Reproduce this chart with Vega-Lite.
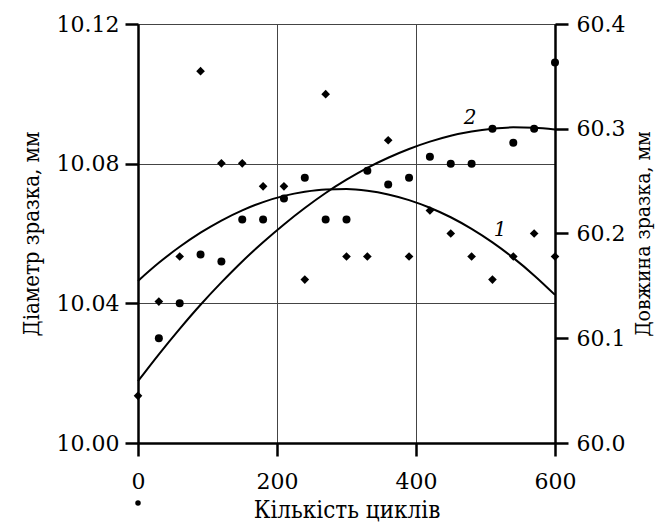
{
  "$schema": "https://vega.github.io/schema/vega-lite/v6.json",
  "autosize": "none",
  "width": 417,
  "height": 419,
  "padding": {"left": 138, "top": 24, "right": 104, "bottom": 82},
  "background": "white",
  "config": {
    "font": "DejaVu Serif",
    "view": {"stroke": "#555", "strokeWidth": 1},
    "axis": {
      "labelFont": "DejaVu Serif",
      "titleFont": "DejaVu Serif Condensed, DejaVu Serif",
      "labelFontSize": 22,
      "titleFontSize": 21,
      "titleFontWeight": "normal",
      "labelColor": "black",
      "titleColor": "black",
      "labelFlush": false,
      "domainColor": "black",
      "domainWidth": 2.5,
      "tickColor": "black",
      "tickWidth": 2.5,
      "tickSize": 13,
      "gridColor": "#444",
      "gridWidth": 1,
      "gridOpacity": 1
    }
  },
  "datasets": {
    "diam": [
      {"n": 30, "d": 10.030}, {"n": 60, "d": 10.040}, {"n": 90, "d": 10.054},
      {"n": 120, "d": 10.052}, {"n": 150, "d": 10.064}, {"n": 180, "d": 10.064},
      {"n": 210, "d": 10.070}, {"n": 240, "d": 10.076}, {"n": 270, "d": 10.064},
      {"n": 300, "d": 10.064}, {"n": 330, "d": 10.078}, {"n": 360, "d": 10.074},
      {"n": 390, "d": 10.076}, {"n": 420, "d": 10.082}, {"n": 450, "d": 10.080},
      {"n": 480, "d": 10.080}, {"n": 510, "d": 10.090}, {"n": 540, "d": 10.086},
      {"n": 570, "d": 10.090}, {"n": 600, "d": 10.109}
    ],
    "len": [
      {"n": 0, "l": 60.045}, {"n": 30, "l": 60.135}, {"n": 60, "l": 60.178},
      {"n": 90, "l": 60.355}, {"n": 120, "l": 60.267}, {"n": 150, "l": 60.267},
      {"n": 180, "l": 60.245}, {"n": 210, "l": 60.245}, {"n": 240, "l": 60.156},
      {"n": 270, "l": 60.333}, {"n": 300, "l": 60.178}, {"n": 330, "l": 60.178},
      {"n": 360, "l": 60.289}, {"n": 390, "l": 60.178}, {"n": 420, "l": 60.222},
      {"n": 450, "l": 60.200}, {"n": 480, "l": 60.178}, {"n": 510, "l": 60.156},
      {"n": 540, "l": 60.178}, {"n": 570, "l": 60.200}, {"n": 600, "l": 60.178}
    ],
    "fit": [
      {"n": 0, "c1": 60.1547, "c2": 10.0177}, {"n": 30, "c1": 60.1720, "c2": 10.0254},
      {"n": 60, "c1": 60.1873, "c2": 10.0327}, {"n": 90, "c1": 60.2008, "c2": 10.0396},
      {"n": 120, "c1": 60.2124, "c2": 10.0460}, {"n": 150, "c1": 60.2221, "c2": 10.0520},
      {"n": 180, "c1": 60.2300, "c2": 10.0575}, {"n": 210, "c1": 60.2359, "c2": 10.0626},
      {"n": 240, "c1": 60.2399, "c2": 10.0673}, {"n": 270, "c1": 60.2421, "c2": 10.0716},
      {"n": 300, "c1": 60.2424, "c2": 10.0754}, {"n": 330, "c1": 60.2408, "c2": 10.0788},
      {"n": 360, "c1": 60.2373, "c2": 10.0817}, {"n": 390, "c1": 60.2319, "c2": 10.0842},
      {"n": 420, "c1": 60.2246, "c2": 10.0863}, {"n": 450, "c1": 60.2155, "c2": 10.0880},
      {"n": 480, "c1": 60.2044, "c2": 10.0892}, {"n": 510, "c1": 60.1915, "c2": 10.0900},
      {"n": 540, "c1": 60.1767, "c2": 10.0904}, {"n": 570, "c1": 60.1600, "c2": 10.0903},
      {"n": 600, "c1": 60.1414, "c2": 10.0898}
    ],
    "lab2": [{"n": 478, "d": 10.093, "t": "2"}],
    "lab1": [{"n": 521, "l": 60.203, "t": "1"}],
    "dot": [{"n": 0, "d": 10.0}]
  },
  "layer": [
    {
      "layer": [
        {
          "data": {"name": "fit"},
          "mark": {"type": "line", "color": "black", "strokeWidth": 2, "interpolate": "monotone"},
          "encoding": {
            "x": {"field": "n", "type": "quantitative", "scale": {"domain": [0, 600], "nice": false},
              "axis": {"values": [0, 200, 400, 600], "grid": true, "title": "Кількість циклів", "titleFontSize": 24, "labelPadding": 15, "titlePadding": 6}},
            "y": {"field": "c2", "type": "quantitative", "scale": {"domain": [10.0, 10.12], "nice": false, "zero": false},
              "axis": {"orient": "left", "values": [10.0, 10.04, 10.08, 10.12], "format": ".2f", "grid": true, "title": "Діаметр зразка, мм", "titleFontSize": 22, "labelPadding": 6, "titlePadding": 13}}
          }
        },
        {
          "data": {"name": "diam"},
          "mark": {"type": "point", "shape": "circle", "filled": true, "color": "black", "opacity": 1, "size": 64},
          "encoding": {
            "x": {"field": "n", "type": "quantitative"},
            "y": {"field": "d", "type": "quantitative"}
          }
        },
        {
          "data": {"name": "lab2"},
          "mark": {"type": "text", "font": "DejaVu Serif", "fontStyle": "italic", "fontSize": 20, "color": "black"},
          "encoding": {
            "x": {"field": "n", "type": "quantitative"},
            "y": {"field": "d", "type": "quantitative"},
            "text": {"field": "t"}
          }
        },
        {
          "data": {"name": "dot"},
          "mark": {"type": "point", "shape": "circle", "filled": true, "color": "black", "opacity": 1, "size": 30, "yOffset": 60},
          "encoding": {
            "x": {"field": "n", "type": "quantitative"},
            "y": {"field": "d", "type": "quantitative"}
          }
        }
      ]
    },
    {
      "layer": [
        {
          "data": {"name": "fit"},
          "mark": {"type": "line", "color": "black", "strokeWidth": 2, "interpolate": "monotone"},
          "encoding": {
            "x": {"field": "n", "type": "quantitative"},
            "y": {"field": "c1", "type": "quantitative", "scale": {"domain": [60.0, 60.4], "nice": false, "zero": false},
              "axis": {"orient": "right", "values": [60.0, 60.1, 60.2, 60.3, 60.4], "format": ".1f", "grid": false, "title": "Довжина зразка, мм", "titleAngle": 270, "titleBaseline": "top", "labelPadding": 8, "titlePadding": 8}}
          }
        },
        {
          "data": {"name": "len"},
          "mark": {"type": "point", "shape": "diamond", "filled": true, "color": "black", "opacity": 1, "size": 75},
          "encoding": {
            "x": {"field": "n", "type": "quantitative"},
            "y": {"field": "l", "type": "quantitative"}
          }
        },
        {
          "data": {"name": "lab1"},
          "mark": {"type": "text", "font": "DejaVu Serif", "fontStyle": "italic", "fontSize": 20, "color": "black"},
          "encoding": {
            "x": {"field": "n", "type": "quantitative"},
            "y": {"field": "l", "type": "quantitative"},
            "text": {"field": "t"}
          }
        }
      ]
    }
  ],
  "resolve": {"scale": {"y": "independent"}}
}
